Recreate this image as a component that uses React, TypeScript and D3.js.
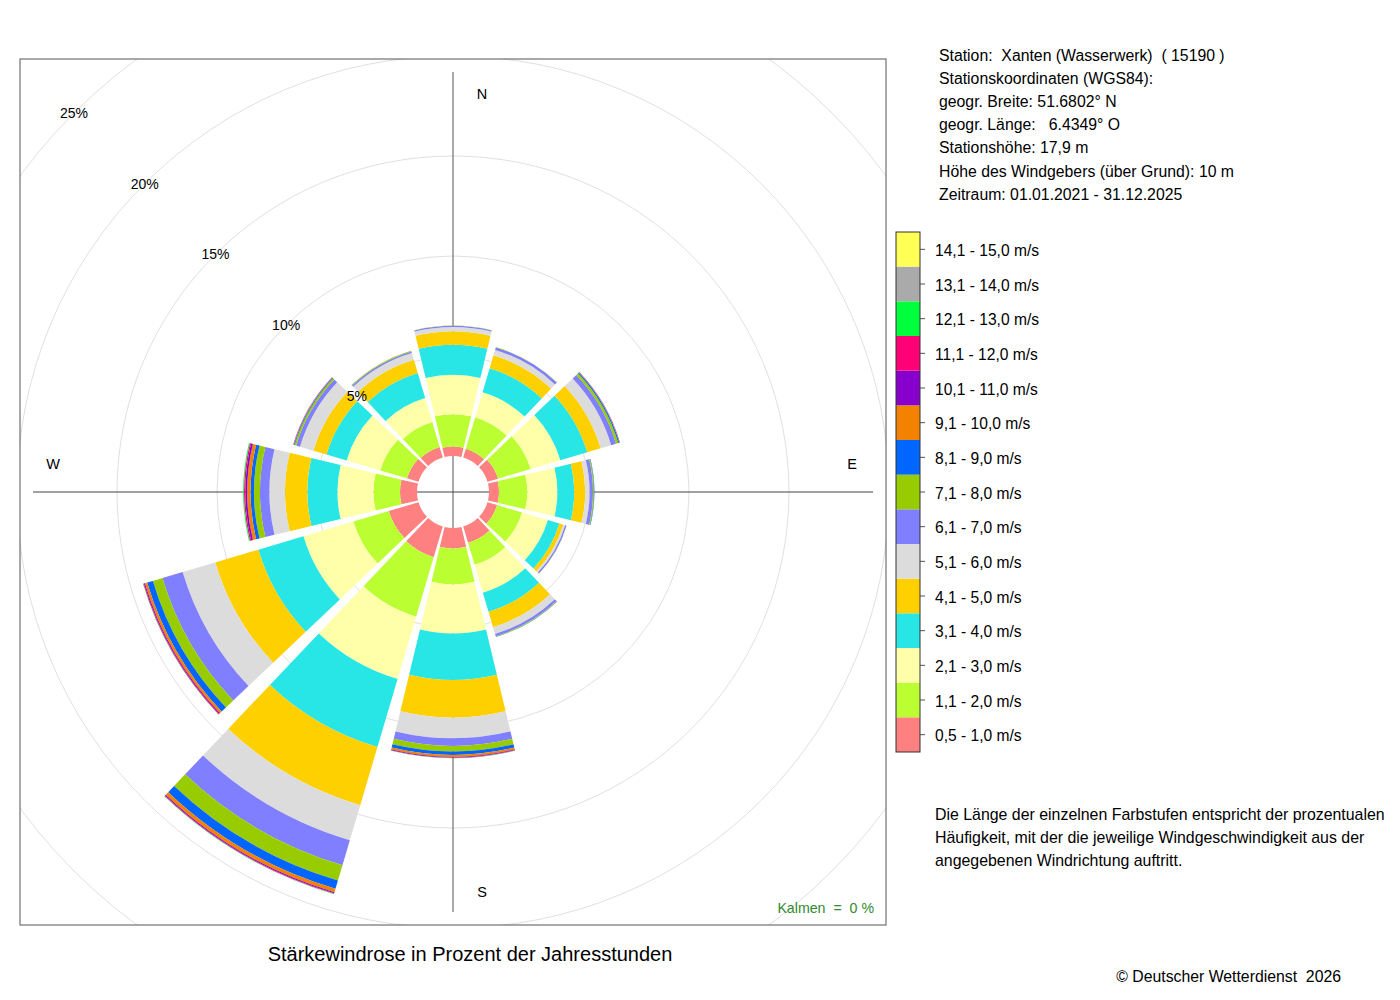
import * as d3 from 'd3';

// speed classes, inner to outer
const speedClasses = [
  '0,5 - 1,0 m/s', '1,1 - 2,0 m/s', '2,1 - 3,0 m/s', '3,1 - 4,0 m/s', '4,1 - 5,0 m/s',
  '5,1 - 6,0 m/s', '6,1 - 7,0 m/s', '7,1 - 8,0 m/s', '8,1 - 9,0 m/s', '9,1 - 10,0 m/s',
  '10,1 - 11,0 m/s', '11,1 - 12,0 m/s', '12,1 - 13,0 m/s', '13,1 - 14,0 m/s', '14,1 - 15,0 m/s',
];
const classColors = [
  '#FF8080', '#BBFF33', '#FFFFAA', '#28E6E6', '#FFD000', '#DCDCDC', '#7F7FFF', '#99CC00',
  '#0066FF', '#F28200', '#8800CC', '#FF0077', '#00FF3C', '#AAAAAA', '#FFFF55',
];

const directions = [0, 30, 60, 90, 120, 150, 180, 210, 240, 270, 300, 330];

// percent of hours per speed class, one array per direction
const dirN = [0.47, 1.62, 1.97, 1.5, 0.67, 0.22, 0.06, 0.01, 0, 0, 0, 0, 0, 0, 0];
const dirNNE = [0.45, 1.65, 1.3, 1.25, 0.68, 0.28, 0.13, 0.02, 0, 0, 0, 0, 0, 0, 0];
const dirENE = [0.55, 1.7, 1.55, 1.4, 0.7, 0.55, 0.25, 0.12, 0.06, 0.02, 0.01, 0, 0, 0, 0];
const dirE = [0.5, 1.42, 1.5, 0.84, 0.55, 0.22, 0.17, 0.05, 0.02, 0, 0, 0, 0, 0, 0];
const dirESE = [0.5, 1.3, 1.35, 0.6, 0.2, 0.1, 0.07, 0.01, 0, 0, 0, 0, 0, 0, 0];
const dirSSE = [0.85, 1.15, 1.45, 1.0, 0.8, 0.35, 0.12, 0.03, 0.01, 0, 0, 0, 0, 0, 0];
const dirS = [1.02, 1.8, 2.45, 2.33, 1.88, 1.03, 0.38, 0.28, 0.17, 0.1, 0.035, 0.02, 0.01, 0, 0];
const dirSSW = [1.6, 3.1, 3.25, 3.55, 3.03, 1.83, 1.3, 0.8, 0.43, 0.18, 0.05, 0.03, 0.02, 0.01, 0];
const dirWSW = [1.55, 1.85, 2.6, 2.35, 2.25, 1.7, 1.05, 0.5, 0.3, 0.12, 0.05, 0.035, 0.015, 0, 0];
const dirW = [0.85, 1.33, 1.8, 1.5, 1.12, 0.78, 0.47, 0.3, 0.17, 0.17, 0.09, 0.065, 0.045, 0.01, 0];
const dirWNW = [0.6, 1.4, 1.75, 1.05, 0.68, 0.7, 0.2, 0.08, 0.04, 0.02, 0.01, 0.01, 0, 0, 0];
const dirNNW = [0.55, 1.3, 1.25, 1.3, 0.7, 0.35, 0.08, 0.03, 0.01, 0, 0, 0, 0, 0, 0];
const sectors = [dirN, dirNNE, dirENE, dirE, dirESE, dirSSE, dirS, dirSSW, dirWSW, dirW, dirWNW, dirNNW];

const ringPercents = [5, 10, 15, 20, 25, 30];

const stationInfo = [
  'Station:  Xanten (Wasserwerk)  ( 15190 )',
  'Stationskoordinaten (WGS84):',
  'geogr. Breite: 51.6802° N',
  'geogr. Länge:   6.4349° O',
  'Stationshöhe: 17,9 m',
  'Höhe des Windgebers (über Grund): 10 m',
  'Zeitraum: 01.01.2021 - 31.12.2025',
];
const noteLines = [
  'Die Länge der einzelnen Farbstufen entspricht der prozentualen',
  'Häufigkeit, mit der die jeweilige Windgeschwindigkeit aus der',
  'angegebenen Windrichtung auftritt.',
];

const font = '"Liberation Sans", Arial, Helvetica, sans-serif';

export default function App() {
  const cx = 453;
  const cy = 492;
  const box = { x: 20, y: 59, w: 866, h: 866 };

  const r = d3.scaleLinear().domain([0, 25]).range([36, 536]);
  const toRad = (deg: number) => (deg * Math.PI) / 180;
  const half = 13.5;
  const arc = d3.arc<any>();

  const table = directions.map((dir, i) => {
    const row: any = { dir };
    speedClasses.forEach((c, k) => (row[c] = sectors[i][k]));
    return row;
  });
  const series = d3.stack<any>().keys(speedClasses)(table);

  const legendScale = d3.scaleBand<string>()
    .domain([...speedClasses].reverse())
    .range([232, 752]);

  const diag = Math.SQRT1_2;

  return (
    <div style={{ position: 'absolute', left: 0, top: 0 }}>
      <svg width={1400} height={1000} style={{ display: 'block', fontFamily: font }}>
        <defs>
          <clipPath id="plotbox">
            <rect x={box.x} y={box.y} width={box.w} height={box.h} />
          </clipPath>
        </defs>
        <rect x={0} y={0} width={1400} height={1000} fill="#fff" />

        <g clipPath="url(#plotbox)">
          {ringPercents.map(p => (
            <circle key={p} cx={cx} cy={cy} r={r(p)} fill="none" stroke="#e0e0e0" strokeWidth={1} />
          ))}
        </g>

        <line x1={cx} x2={cx} y1={72} y2={912} stroke="#555" strokeWidth={1} />
        <line x1={33} x2={873} y1={cy} y2={cy} stroke="#444" strokeWidth={1} />

        <g transform={`translate(${cx},${cy})`}>
          {series.map((s, k) =>
            s.map((d, i) => {
              if (d[1] - d[0] <= 0) return null;
              const dir = directions[i];
              return (
                <path
                  key={`${k}-${i}`}
                  d={arc({
                    innerRadius: r(d[0]),
                    outerRadius: r(d[1]),
                    startAngle: toRad(dir - half),
                    endAngle: toRad(dir + half),
                  }) || ''}
                  fill={classColors[k]}
                />
              );
            })
          )}
        </g>

        {ringPercents.filter(p => p <= 25).map(p => (
          <text
            key={p}
            x={cx - r(p) * diag}
            y={cy - r(p) * diag}
            fontSize={14}
            textAnchor="middle"
            dominantBaseline="central"
            fill="#000"
          >
            {p}%
          </text>
        ))}

        <g fontSize={14.5} textAnchor="middle" dominantBaseline="central">
          <text x={cx + 29} y={94}>N</text>
          <text x={cx + 29} y={892}>S</text>
          <text x={53} y={464}>W</text>
          <text x={852} y={464}>E</text>
        </g>

        <rect x={box.x} y={box.y} width={box.w} height={box.h} fill="none" stroke="#555" strokeWidth={1} />

        <text x={874} y={913} fontSize={14.2} textAnchor="end" fill="#2E8B2E" style={{ whiteSpace: 'pre' }}>
          {'Kalmen  =  0 %'}
        </text>

        <text x={470} y={961} fontSize={20} textAnchor="middle">
          Stärkewindrose in Prozent der Jahresstunden
        </text>

        <g fontSize={15.8}>
          {stationInfo.map((t, i) => (
            <text key={i} x={939} y={60.5 + i * 23.2} style={{ whiteSpace: 'pre' }}>{t}</text>
          ))}
        </g>

        <g>
          {speedClasses.map((c, k) => {
            const y = legendScale(c) || 0;
            const h = legendScale.bandwidth();
            return (
              <g key={c}>
                <rect x={896} y={y} width={24} height={h} fill={classColors[k]} />
                <line x1={920} x2={925} y1={y + h / 2} y2={y + h / 2} stroke="#555" />
                <text x={935} y={y + h / 2 + 1} fontSize={15.6} dominantBaseline="central">{c}</text>
              </g>
            );
          })}
          <rect x={896} y={232} width={24} height={520} fill="none" stroke="#333" strokeWidth={1} />
        </g>

        <g fontSize={15.9}>
          {noteLines.map((t, i) => (
            <text key={i} x={935} y={819.5 + i * 23}>{t}</text>
          ))}
        </g>

        <text x={1341} y={981.5} fontSize={15.8} textAnchor="end" style={{ whiteSpace: 'pre' }}>
          {'© Deutscher Wetterdienst  2026'}
        </text>
      </svg>
    </div>
  );
}
